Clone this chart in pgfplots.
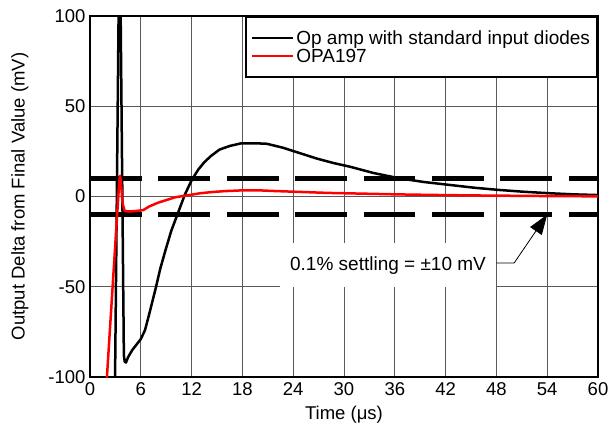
\documentclass[border=0pt]{standalone}
\usepackage{fontspec}
\setmainfont{Liberation Sans}
\usepackage{pgfplots}
\pgfplotsset{compat=1.18}
\usetikzlibrary{arrows.meta}
\begin{document}
\begin{tikzpicture}
\begin{axis}[
  scale only axis, width=508pt, height=361pt,
  xmin=0, xmax=60, ymin=-100, ymax=100,
  xtick={0,6,...,60}, ytick={-100,-50,0,50,100},
  grid=major, major grid style={black!65, line width=0.8pt},
  major tick length=0pt,
  axis line style={line width=2.5pt},
  /pgf/number format/assume math mode=true,
  tick label style={font=\fontsize{18.5}{20}\selectfont},
  xticklabel style={yshift=-2pt},
  yticklabel style={xshift=-1pt},
  label style={font=\fontsize{18.5}{20}\selectfont},
  xlabel={Time (μs)},
  ylabel={Output Delta from Final Value (mV)},
  xlabel style={at={(axis description cs:0.5,-0.105)}, anchor=center},
  ylabel style={at={(axis description cs:-0.138,0.5)}, anchor=center},
  legend style={at={(1,1)}, anchor=north east, draw=black, line width=2pt, fill=white,
    font=\fontsize{19}{21}\selectfont, inner xsep=5pt, inner ysep=12.5pt,
    row sep=1pt, cells={anchor=west}, nodes={inner ysep=1pt}},
  legend image code/.code={\draw[#1, line width=2pt] (3pt,0pt) -- (38pt,0pt); \path (0pt,0pt) -- (41pt,0pt);},
]
\addplot[line width=5pt, dash pattern=on 51.7pt off 16.7pt, forget plot] coordinates {(0,10) (60,10)};
\addplot[line width=5pt, dash pattern=on 51.7pt off 16.7pt, forget plot] coordinates {(0,-10) (60,-10)};
\addplot[black, line width=2.5pt, line join=round] coordinates {
(2.9,-130) (3.5,160) (4.0,-88) (4.1,-91.5) (4.25,-92) (4.5,-89) (5.0,-85) (5.5,-82) (6.0,-79) (6.5,-74) (7.0,-65) (7.7,-52) (8.3,-40) (8.9,-30) (9.6,-19) (10.4,-9) (11.2,1) (12,9) (12.8,15) (13.5,19) (14.3,22.5) (15.3,26) (16.5,28) (17.9,29.5) (19.5,29.5) (20.9,29.2) (22.8,27) (24.8,24) (26.8,21) (28.8,18.5) (30.7,16.5) (33.5,13) (36.6,10) (39.5,8) (42.5,6.4) (45.5,4.8) (48.4,3.6) (51.3,2.6) (54.3,1.8) (57,1.2) (60,0.8)
};
\addlegendentry{Op amp with standard input diodes}
\addplot[red, line width=2.5pt, line join=round] coordinates {
(1.8,-115) (3.45,8) (3.55,11.5) (3.65,8) (3.85,-4) (4.1,-8) (4.5,-8.3) (5.5,-8) (6.3,-7.5) (7,-5.5) (8,-3.5) (9,-2) (10,-0.5) (11,0.3) (12,1) (13,1.8) (14.5,2.5) (16,3) (18,3.4) (20,3.4) (22,3) (25,2.5) (28,2) (32,1.6) (36,1.2) (40,0.9) (45,0.6) (50,0.4) (55,0.2) (60,0.1)
};
\addlegendentry{OPA197}
\fill[white] (axis cs:22.44,-25.8) rectangle (axis cs:47.95,-50.1);
\node[font=\fontsize{19}{21}\selectfont] at (axis cs:35.2,-38) {0.1\% settling = ±10 mV};
\draw[line width=0.8pt, -{Triangle[length=20pt,width=14pt]}] (axis cs:48,-36.8) -- (axis cs:50.1,-36.8) -- (axis cs:54,-10);
\end{axis}
\pgfresetboundingbox
\path[use as bounding box] (-90pt,-52pt) rectangle (520pt,377pt);
\end{tikzpicture}
\end{document}
